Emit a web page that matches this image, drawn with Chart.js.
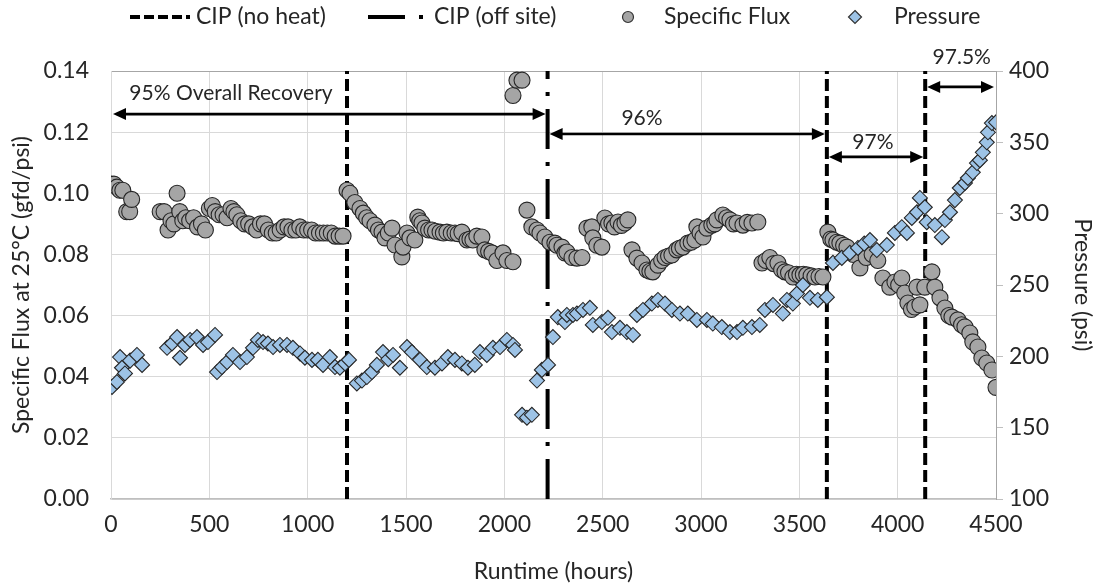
<!DOCTYPE html>
<html><head><meta charset="utf-8">
<script src="https://cdn.jsdelivr.net/npm/chart.js@4.4.1/dist/chart.umd.min.js"></script>
<style>html,body{margin:0;padding:0;background:#fff;}#wrap{width:1104px;height:585px;}</style>
</head><body><div id="wrap"><canvas id="c" width="1104" height="585"></canvas></div>
<script>
// ---- data ----
const fluxHours = [0,15,30,45,60,80,95,105,250,270,290,305,320,336,350,365,380,400,420,440,460,480,500,515,530,550,570,590,610,625,640,660,680,700,720,740,760,780,800,820,840,860,880,900,920,940,960,980,1000,1020,1040,1060,1080,1100,1120,1140,1160,1180,
1200,1215,1240,1266,1283,1300,1317,1342,1360,1378,1393,1410,1429,1444,1479,1485,1505,1520,1545,1560,1570,1581,1596,1615,1632,1650,1673,1690,1708,1730,1749,1765,1784,1810,1825,1840,1860,1886,1901,1920,1937,1962,1993,2013,2044,2044,2064,2090,2115,2140,2166,2181,2206,
2232,2257,2267,2293,2308,2318,2344,2369,2395,2420,2445,2450,2470,2496,2511,2530,2547,2560,2578,2595,2613,2628,2649,2674,2700,2725,2740,2755,2781,2800,2817,2835,2852,2877,2890,2908,2933,2950,2969,2979,2995,3010,3030,3055,3070,3081,3111,3130,3147,3165,3183,3213,3235,3259,3289,3310,3330,3350,3370,3391,3410,3427,3445,3467,3485,3503,3520,3538,3560,3579,3600,3620,
3645,3660,3671,3690,3706,3725,3742,3775,3808,3840,3870,3899,3925,3960,3986,4005,4021,4036,4052,4070,4087,4098,4113,4138,
4174,4189,4215,4240,4260,4276,4306,4325,4342,4367,4382,4408,4428,4453,4479,4500];
const fluxValues = [0.103,0.103,0.102,0.101,0.101,0.094,0.094,0.098,0.094,0.094,0.088,0.091,0.090,0.100,0.094,0.091,0.092,0.091,0.092,0.089,0.090,0.088,0.095,0.096,0.094,0.093,0.093,0.092,0.095,0.094,0.093,0.091,0.090,0.090,0.089,0.088,0.090,0.090,0.088,0.087,0.087,0.088,0.089,0.089,0.088,0.088,0.089,0.088,0.088,0.088,0.087,0.087,0.087,0.087,0.087,0.086,0.086,0.086,
0.101,0.100,0.097,0.095,0.0935,0.092,0.091,0.0896,0.088,0.0873,0.0854,0.087,0.0886,0.0831,0.0792,0.0824,0.087,0.0854,0.0847,0.0922,0.091,0.0903,0.0886,0.088,0.088,0.0876,0.0873,0.087,0.0873,0.087,0.087,0.0868,0.0873,0.0847,0.085,0.0847,0.086,0.0857,0.0815,0.081,0.0805,0.078,0.0805,0.078,0.0776,0.132,0.137,0.137,0.0945,0.089,0.088,0.087,0.0857,
0.084,0.0837,0.083,0.0824,0.0805,0.0808,0.079,0.0788,0.079,0.0886,0.089,0.0854,0.083,0.0824,0.0919,0.090,0.0903,0.089,0.0906,0.0895,0.0903,0.0913,0.0815,0.0788,0.0772,0.0749,0.0745,0.0743,0.0765,0.078,0.079,0.0795,0.0798,0.0815,0.082,0.0824,0.0837,0.084,0.0847,0.089,0.087,0.0857,0.0886,0.0896,0.090,0.0913,0.0929,0.092,0.0913,0.090,0.0903,0.0896,0.0905,0.0903,0.0906,0.0772,0.078,0.079,0.077,0.0772,0.075,0.0743,0.074,0.0726,0.0735,0.0733,0.0735,0.0733,0.073,0.0726,0.0728,0.0726,
0.0873,0.085,0.0847,0.084,0.0837,0.083,0.0824,0.080,0.0756,0.079,0.080,0.078,0.0723,0.0693,0.071,0.070,0.0723,0.0674,0.0641,0.062,0.0628,0.0693,0.0635,0.0693,
0.0743,0.0693,0.0658,0.0625,0.060,0.0595,0.0586,0.057,0.0563,0.0543,0.0514,0.0497,0.0461,0.0445,0.0422,0.0365];

const pressureHours = [5,30,46,56,71,97,132,158,285,310,336,351,376,402,437,468,493,529,539,564,590,620,656,691,722,747,773,798,824,859,895,925,961,986,1022,1052,1078,1113,1139,1164,1190,1210,
1250,1276,1301,1327,1352,1383,1410,1434,1469,1505,1530,1571,1606,1647,1683,1713,1749,1784,1815,1850,1876,1911,1942,1978,2013,2044,2054,2090,2115,2140,2166,2191,2222,
2247,2272,2308,2318,2349,2369,2400,2435,2450,2496,2527,2547,2588,2623,2654,2674,2705,2750,2781,2817,2852,2893,2933,2979,3030,3060,3106,3147,3183,3213,3259,3299,3325,3366,3416,3437,3467,3488,3518,3554,3594,3640,
3671,3716,3757,3798,3830,3859,3894,3945,3986,4021,4047,4072,4098,4113,4138,
4148,4189,4225,4240,4266,4291,4316,4342,4357,4382,4403,4418,4433,4453,4459,4479,4500];
const pressureValues = [178.5,182,199.5,192,188,197,201,194,206,209,213.5,199,208,211.5,213.5,208,210,215,189,192.5,196,201,196,199.5,206,211.5,210,209,206.5,208,208,206,202,199,197.5,197.5,194,199.5,192.5,192,195,197.5,
181,183,185.5,189,194,203,198,201,192,206.5,203,197.5,192.5,192,195,199.5,197.5,195,192,194,203,201,206,206.5,211.5,208,204.5,159,157,159,183,190.5,194,
213.5,227.5,224,229,229,230,232.5,234,222,224,227,217,220,217,215,229,232.5,237,239.5,237,232.5,230,230,225.5,225.5,223,220.5,217,217,220,220.5,222,232.5,236,230,239.5,237,244,250,241,239.5,241.5,
265.5,269,272.5,276,279,281.5,274.5,278,286.5,290.5,286.5,297,301,311,304.5,
294,292,283.5,295.5,301,309.5,318,321.5,325,329,335.5,337.5,343,350,357,363.5,364];

const cipNoHeat = [1200, 3640, 4140];
const cipOffSite = [2220];

const arrowFrom  = [0, 2220, 3640, 4140];
const arrowTo    = [2220, 3640, 4140, 4500];
const arrowLevel = [0.1259, 0.1194, 0.1119, 0.1348];
const arrowLabels = ['95% Overall Recovery', '96%', '97%', '97.5%'];
const labelHour  = [610, 2700, 3874, 4326];
const labelLevel = [0.1328, 0.1246, 0.1168, 0.1446];

const xTicks = [0,500,1000,1500,2000,2500,3000,3500,4000,4500];

// ---- build ----
const toPts = (xs, ys) => xs.map((x, i) => ({x: x, y: ys[i]}));
const vLines = xs => xs.flatMap(x => [{x: x, y: 0}, {x: x, y: 0.14}, {x: x, y: null}]);

const FONT = 'Lato, "Open Sans", sans-serif';
const TXT = '#262626';
const FS = 23;

const overlay = {
  id: 'overlay',
  afterDatasetsDraw(chart) {
    const ctx = chart.ctx, xs = chart.scales.x, ys = chart.scales.y;
    ctx.save();
    ctx.strokeStyle = '#000'; ctx.fillStyle = '#000'; ctx.lineWidth = 2.6;
    const head = (tx, ty, dir) => {
      ctx.beginPath();
      ctx.moveTo(tx, ty);
      ctx.lineTo(tx - dir * 13, ty - 6);
      ctx.lineTo(tx - dir * 13, ty + 6);
      ctx.closePath(); ctx.fill();
    };
    for (let i = 0; i < arrowFrom.length; i++) {
      const x1 = xs.getPixelForValue(arrowFrom[i]) + 2;
      const x2 = xs.getPixelForValue(arrowTo[i]) - 2;
      const y = ys.getPixelForValue(arrowLevel[i]);
      ctx.beginPath(); ctx.moveTo(x1 + 8, y); ctx.lineTo(x2 - 8, y); ctx.stroke();
      head(x1, y, -1); head(x2, y, 1);
      ctx.font = '21px ' + FONT; ctx.fillStyle = TXT;
      ctx.textAlign = 'center'; ctx.textBaseline = 'middle';
      ctx.fillText(arrowLabels[i], xs.getPixelForValue(labelHour[i]), ys.getPixelForValue(labelLevel[i]));
      ctx.fillStyle = '#000';
    }
    ctx.restore();
  },
  afterDraw(chart) {
    const ctx = chart.ctx; const ly = 17;
    ctx.save();
    ctx.font = FS + 'px ' + FONT; ctx.fillStyle = TXT; ctx.textBaseline = 'middle'; ctx.textAlign = 'left';
    // CIP (no heat)
    ctx.strokeStyle = '#000'; ctx.lineWidth = 4; ctx.setLineDash([10, 4]);
    ctx.beginPath(); ctx.moveTo(130, ly); ctx.lineTo(190, ly); ctx.stroke();
    ctx.fillText('CIP (no heat)', 196, ly);
    // CIP (off site)
    ctx.setLineDash([37, 14, 4, 14]);
    ctx.beginPath(); ctx.moveTo(368, ly); ctx.lineTo(424, ly); ctx.stroke();
    ctx.setLineDash([]);
    ctx.fillText('CIP (off site)', 434, ly);
    // Specific Flux
    ctx.beginPath(); ctx.arc(628, ly, 5.5, 0, Math.PI * 2);
    ctx.fillStyle = '#A5A5A5'; ctx.fill(); ctx.lineWidth = 1.2; ctx.strokeStyle = '#333'; ctx.stroke();
    ctx.fillStyle = TXT; ctx.fillText('Specific Flux', 664, ly);
    // Pressure
    ctx.beginPath(); ctx.moveTo(855, ly - 6.5); ctx.lineTo(861.5, ly); ctx.lineTo(855, ly + 6.5); ctx.lineTo(848.5, ly); ctx.closePath();
    ctx.fillStyle = '#9DC3E6'; ctx.fill(); ctx.stroke();
    ctx.fillStyle = TXT; ctx.fillText('Pressure', 894, ly);
    ctx.restore();
  }
};

Chart.defaults.font.family = FONT;
Chart.defaults.color = TXT;

new Chart(document.getElementById('c'), {
  type: 'scatter',
  data: {
    datasets: [
      { label: 'Pressure', data: toPts(pressureHours, pressureValues), yAxisID: 'y1', order: 0,
        pointStyle: 'rectRot', pointRadius: 7.5, backgroundColor: '#9DC3E6', borderColor: '#262626', borderWidth: 1.1 },
      { label: 'Specific Flux', data: toPts(fluxHours, fluxValues), yAxisID: 'y', order: 1,
        pointStyle: 'circle', pointRadius: 8, backgroundColor: '#A5A5A5', borderColor: '#262626', borderWidth: 1.1 },
      { label: 'CIP (no heat)', data: vLines(cipNoHeat), yAxisID: 'y', order: 3, showLine: true, spanGaps: false,
        pointRadius: 0, borderColor: '#000', borderWidth: 4, borderDash: [12, 5] },
      { label: 'CIP (off site)', data: vLines(cipOffSite), yAxisID: 'y', order: 2, showLine: true, spanGaps: false,
        pointRadius: 0, borderColor: '#000', borderWidth: 4, borderDash: [40, 13, 4, 13] }
    ]
  },
  options: {
    responsive: false, devicePixelRatio: 1, animation: false,
    layout: { padding: { top: 71, left: 0, right: 0, bottom: 0 } },
    plugins: { legend: { display: false }, tooltip: { enabled: false } },
    scales: {
      x: {
        type: 'linear', min: 0, max: 4500,
        afterBuildTicks: s => { s.ticks = xTicks.map(v => ({value: v})); },
        afterFit: s => { s.height = 86; },
        ticks: { font: { size: FS }, color: TXT, padding: 12, maxRotation: 0, callback: v => String(v) },
        grid: { color: '#D9D9D9', drawTicks: false },
        border: { color: '#BFBFBF', width: 1.5 },
        title: { display: true, text: 'Runtime (hours)', font: { size: FS }, color: TXT, padding: { top: 0, bottom: 0 } }
      },
      y: {
        position: 'left', min: 0, max: 0.14,
        afterFit: s => { s.width = 111; },
        ticks: { stepSize: 0.02, font: { size: FS }, color: TXT, padding: 22, callback: v => v.toFixed(2) },
        grid: { drawTicks: false, color: c => (c.tick && Math.abs(c.tick.value - 0.14) < 1e-9) ? '#A6A6A6' : '#D9D9D9' },
        border: { color: '#D9D9D9' },
        title: { display: true, text: 'Specific Flux at 25°C (gfd/psi)', font: { size: FS }, color: TXT, padding: { top: 8, bottom: 0 } }
      },
      y1: {
        position: 'right', min: 100, max: 400,
        afterFit: s => { s.width = 108; },
        ticks: { stepSize: 50, font: { size: FS }, color: TXT, padding: 6 },
        grid: { drawOnChartArea: false, tickLength: 7, tickColor: '#BFBFBF' },
        border: { color: '#A6A6A6' },
        title: { display: true, text: 'Pressure (psi)', font: { size: FS }, color: TXT, padding: { top: 8, bottom: 0 } }
      }
    }
  },
  plugins: [overlay]
});
</script>
</body></html>
